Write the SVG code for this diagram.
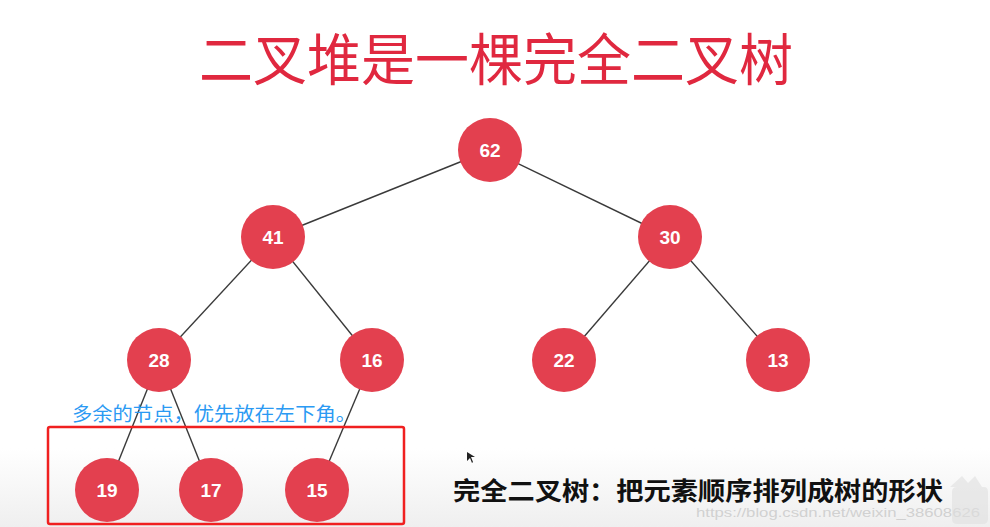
<svg xmlns="http://www.w3.org/2000/svg" width="990" height="527" viewBox="0 0 990 527">
<defs>
<style>
.n circle{fill:#e3404f;}
.n text{fill:#fff;font-family:"Liberation Sans",Arial,sans-serif;font-weight:bold;font-size:19px;text-anchor:middle;}
.e line{stroke:#3a3a3a;stroke-width:1.4;}
</style>
<linearGradient id="bg" x1="0" y1="0" x2="0" y2="1">
<stop offset="0.85" stop-color="#ffffff"/>
<stop offset="1" stop-color="#efefef"/>
</linearGradient>
</defs>
<rect width="990" height="527" fill="url(#bg)"/>
<text x="496" y="80" font-family="'Noto Sans CJK SC',sans-serif" font-size="56" fill="#e0283f" text-anchor="middle" textLength="594" lengthAdjust="spacingAndGlyphs">二叉堆是一棵完全二叉树</text>
<g id="connectors" class="e">
<line x1="490" y1="150" x2="273" y2="237"/>
<line x1="490" y1="150" x2="670" y2="237"/>
<line x1="273" y1="237" x2="159" y2="360"/>
<line x1="273" y1="237" x2="372" y2="360"/>
<line x1="670" y1="237" x2="564" y2="360"/>
<line x1="670" y1="237" x2="778" y2="360"/>
<line x1="159" y1="360" x2="107" y2="490"/>
<line x1="159" y1="360" x2="211" y2="490"/>
<line x1="372" y1="360" x2="317" y2="490"/>
</g>
<g id="n62" class="n"><circle cx="490" cy="150" r="32"/><text x="490" y="157">62</text></g>
<g id="n41" class="n"><circle cx="273" cy="237" r="32"/><text x="273" y="244">41</text></g>
<g id="n30" class="n"><circle cx="670" cy="237" r="32"/><text x="670" y="244">30</text></g>
<g id="n28" class="n"><circle cx="159" cy="360" r="32"/><text x="159" y="367">28</text></g>
<g id="n16" class="n"><circle cx="372" cy="360" r="32"/><text x="372" y="367">16</text></g>
<g id="n22" class="n"><circle cx="564" cy="360" r="32"/><text x="564" y="367">22</text></g>
<g id="n13" class="n"><circle cx="778" cy="360" r="32"/><text x="778" y="367">13</text></g>
<g id="n19" class="n"><circle cx="107" cy="490" r="32"/><text x="107" y="497">19</text></g>
<g id="n17" class="n"><circle cx="211" cy="490" r="32"/><text x="211" y="497">17</text></g>
<g id="n15" class="n"><circle cx="317" cy="490" r="32"/><text x="317" y="497">15</text></g>
<text x="72" y="421" font-family="'Noto Sans CJK SC',sans-serif" font-size="19" fill="#2b9af3" textLength="284" lengthAdjust="spacingAndGlyphs">多余的节点，优先放在左下角。</text>
<rect x="48" y="427" width="356" height="97" rx="2" fill="none" stroke="#f02020" stroke-width="2.5"/>
<text x="453" y="500" font-family="'Noto Sans CJK SC',sans-serif" font-weight="bold" font-size="25" fill="#111" textLength="490" lengthAdjust="spacingAndGlyphs">完全二叉树：把元素顺序排列成树的形状</text>
<polygon points="467,452 467,461 470,458 472,463 473,462 471,457 475,457" fill="#222"/>
<text x="696" y="517" font-family="'Liberation Sans',Arial,sans-serif" font-size="13" fill="#c8c8c8" fill-opacity="0.8" textLength="284" lengthAdjust="spacingAndGlyphs">https://blog.csdn.net/weixin_38608626</text>
<path d="M950,487 L962,476 L968,483 L975,476 L982,487 L984,487 Q988,487 988,492 L988,519 Q988,524 983,524 L957,524 Q952,524 952,519 L952,492 Q952,487 957,487 Z" fill="#e0e0e0" fill-opacity="0.6"/>
</svg>
